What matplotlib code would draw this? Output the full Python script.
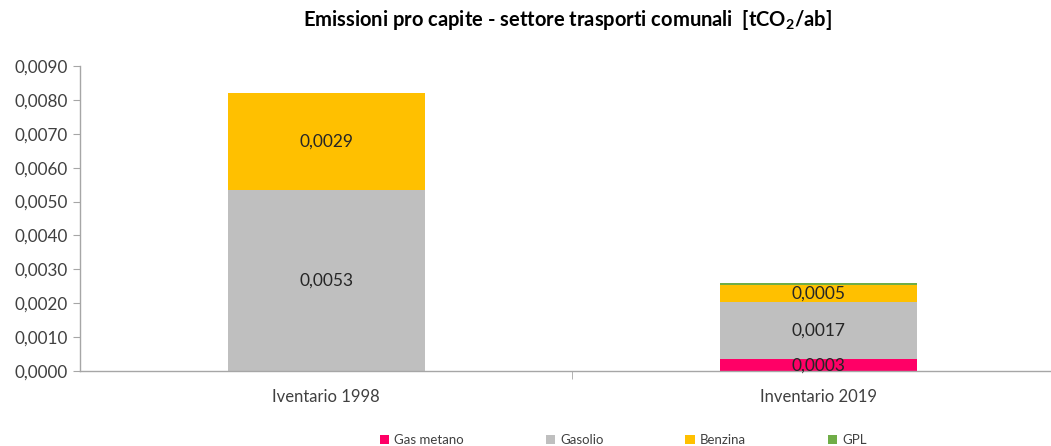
import matplotlib.pyplot as plt
from matplotlib.ticker import FuncFormatter, FixedLocator

plt.rcParams['font.family'] = ['Lato', 'DejaVu Sans']
plt.rcParams['mathtext.fontset'] = 'custom'
plt.rcParams['mathtext.rm'] = 'Lato'
plt.rcParams['mathtext.bf'] = 'Lato:bold'

# Emissioni pro capite per vettore [tCO2/ab]
inventari = ['Iventario 1998', 'Inventario 2019']
gas_metano = [0.0, 0.00034]
gasolio = [0.00534, 0.00171]
benzina = [0.00286, 0.00049]
gpl = [0.0, 0.00006]

serie = [
    ('Gas metano', gas_metano, '#FF0066'),
    ('Gasolio', gasolio, '#BFBFBF'),
    ('Benzina', benzina, '#FFC000'),
    ('GPL', gpl, '#70AD47'),
]


def virgola(v, pos=None):
    return f'{v:.4f}'.replace('.', ',')


fig = plt.figure(figsize=(10.51, 4.46), dpi=100)
ax = fig.add_axes([80 / 1051, 75 / 446, 971 / 1051, 305 / 446])

x = range(len(inventari))
base = [0.0] * len(inventari)
for nome, valori, colore in serie:
    barre = ax.bar(x, valori, width=0.4, bottom=base, color=colore, label=nome)
    if nome != 'GPL':
        for b, v, y0 in zip(barre, valori, base):
            if v > 0:
                ax.text(b.get_x() + b.get_width() / 2, y0 + v / 2, virgola(v),
                        ha='center', va='center', fontsize=12.5, color='#262626')
    base = [b + v for b, v in zip(base, valori)]

ax.set_xlim(-0.5, 1.472)
ax.set_ylim(0, 0.009)
ax.set_yticks([i * 0.001 for i in range(10)])
ax.yaxis.set_major_formatter(FuncFormatter(virgola))
ax.set_xticks(list(x))
ax.set_xticklabels(inventari)
ax.xaxis.set_minor_locator(FixedLocator([0.5]))

for s in ['top', 'right']:
    ax.spines[s].set_visible(False)
for s in ['left', 'bottom']:
    ax.spines[s].set_color('#A6A6A6')
    ax.spines[s].set_linewidth(1.0)

ax.tick_params(axis='y', colors='#A6A6A6', labelcolor='#404040', labelsize=12.3, length=5, direction='out')
ax.tick_params(axis='x', which='major', length=0, labelcolor='#404040', labelsize=12, pad=13)
ax.tick_params(axis='x', which='minor', colors='#A6A6A6', length=6, direction='out')

fig.text(0.54, 1 - 20 / 446, r'Emissioni pro capite - settore trasporti comunali  [tCO$_\mathbf{2}$/ab]',
         ha='center', va='center', fontsize=14.5, fontweight='bold', color='#000000')

fig.legend(loc='center', bbox_to_anchor=(0.593, 1 - 440 / 446), ncol=4, frameon=False,
           fontsize=9.5, handlelength=0.7, handleheight=0.7, handletextpad=0.4,
           columnspacing=6.2, labelcolor='#404040')

fig.savefig('out.png', dpi=100)
